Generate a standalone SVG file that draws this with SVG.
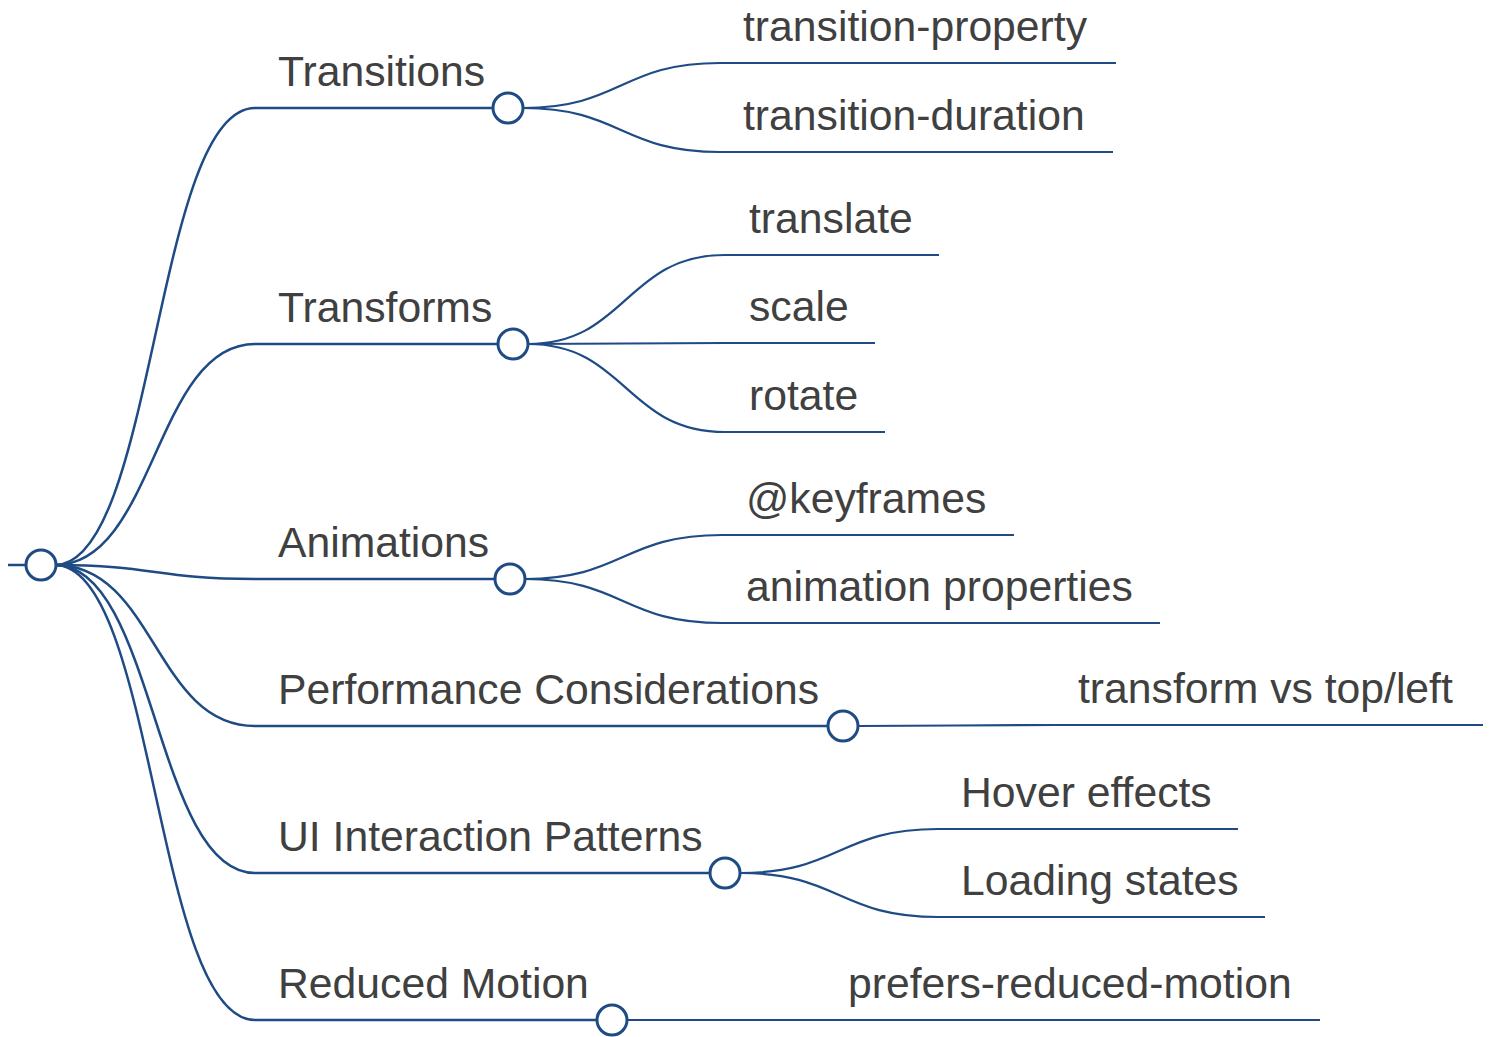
<svg xmlns="http://www.w3.org/2000/svg" width="1493" height="1037" viewBox="0 0 1493 1037">
<style>
.l{fill:none;stroke:#1f4b85;stroke-width:2.5}
.l2{fill:none;stroke:#1f4b85;stroke-width:2.2}
.c{fill:#fff;stroke:#1f4b85;stroke-width:3}
text{font-family:"Liberation Sans",Arial,sans-serif;font-size:42.7px;fill:#404040}
</style>
<rect width="1493" height="1037" fill="#fff"/>
<g id="connectors">
<path class="l" d="M8,565 H26"/>
<path class="l" d="M55,565 C155,565 155,108 255,108 H493"/>
<path class="l" d="M55,565 C155,565 155,344 255,344 H498"/>
<path class="l" d="M55,565 C155,565 155,579 255,579 H495"/>
<path class="l" d="M55,565 C155,565 155,726 255,726 H828"/>
<path class="l" d="M55,565 C155,565 155,873 255,873 H710"/>
<path class="l" d="M55,565 C155,565 155,1020 255,1020 H597"/>
<path class="l2" d="M523,108 C621,108 621,63 720,63 H1116"/>
<path class="l2" d="M523,108 C621,108 621,152 720,152 H1113"/>
<path class="l2" d="M528,344 C626,344 626,255 725,255 H939"/>
<path class="l2" d="M528,344 C626,344 626,343 725,343 H875"/>
<path class="l2" d="M528,344 C626,344 626,432 725,432 H885"/>
<path class="l2" d="M525,579 C623,579 623,535 722,535 H1014"/>
<path class="l2" d="M525,579 C623,579 623,623 722,623 H1160"/>
<path class="l2" d="M858,726 C956,726 956,725 1055,725 H1483"/>
<path class="l2" d="M740,873 C839,873 839,829 938,829 H1238"/>
<path class="l2" d="M740,873 C839,873 839,917 938,917 H1265"/>
<path class="l2" d="M627,1020 C726,1020 726,1020 825,1020 H1320"/>
</g>
<g id="root"><circle class="c" cx="41" cy="565" r="15"/></g>
<g id="n-transitions"><text x="278" y="86">Transitions</text><circle class="c" cx="508" cy="108" r="15"/></g>
<g id="n-transforms"><text x="278" y="322">Transforms</text><circle class="c" cx="513" cy="344" r="15"/></g>
<g id="n-animations"><text x="278" y="557">Animations</text><circle class="c" cx="510" cy="579" r="15"/></g>
<g id="n-performance"><text x="278" y="704">Performance Considerations</text><circle class="c" cx="843" cy="726" r="15"/></g>
<g id="n-ui"><text x="278" y="851">UI Interaction Patterns</text><circle class="c" cx="725" cy="873" r="15"/></g>
<g id="n-reduced"><text x="278" y="998">Reduced Motion</text><circle class="c" cx="612" cy="1020" r="15"/></g>
<g id="n-tp"><text x="743" y="41">transition-property</text></g>
<g id="n-td"><text x="743" y="130">transition-duration</text></g>
<g id="n-translate"><text x="749" y="233">translate</text></g>
<g id="n-scale"><text x="749" y="321">scale</text></g>
<g id="n-rotate"><text x="749" y="410">rotate</text></g>
<g id="n-keyframes"><text x="746" y="513">@keyframes</text></g>
<g id="n-animprops"><text x="746" y="601">animation properties</text></g>
<g id="n-tvtl"><text x="1078" y="703">transform vs top/left</text></g>
<g id="n-hover"><text x="961" y="807">Hover effects</text></g>
<g id="n-loading"><text x="961" y="895">Loading states</text></g>
<g id="n-prm"><text x="848" y="998">prefers-reduced-motion</text></g>
</svg>
